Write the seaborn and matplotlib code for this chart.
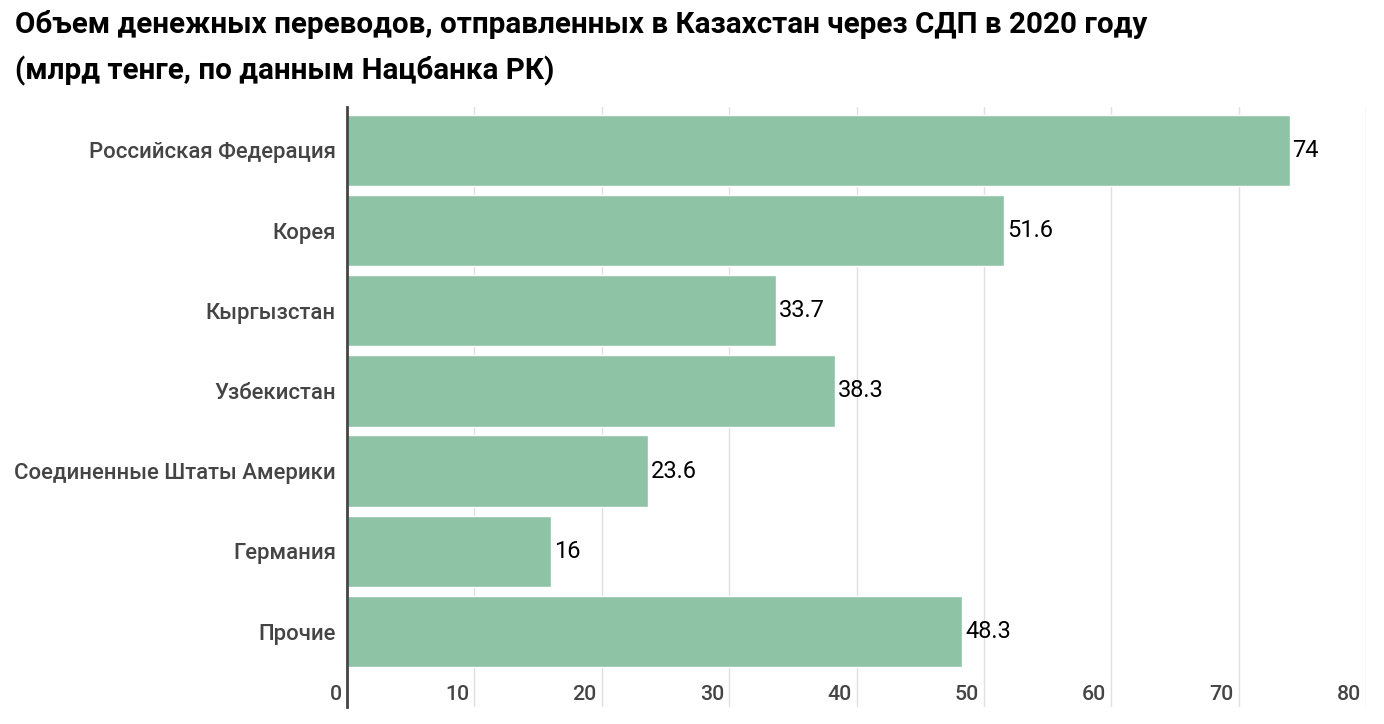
import matplotlib
matplotlib.use("Agg")
import matplotlib.pyplot as plt
import matplotlib.transforms as mtransforms
import seaborn as sns
import pandas as pd

categories = ["Российская Федерация", "Корея", "Кыргызстан", "Узбекистан",
              "Соединенные Штаты Америки", "Германия", "Прочие"]
values = [74, 51.6, 33.7, 38.3, 23.6, 16, 48.3]
value_labels = ["74", "51.6", "33.7", "38.3", "23.6", "16", "48.3"]
x_ticks = [0, 10, 20, 30, 40, 50, 60, 70, 80]
title = "Объем денежных переводов, отправленных в Казахстан через СДП в 2020 году\n(млрд тенге, по данным Нацбанка РК)"

sns.set_theme(style="white")
plt.rcParams["font.family"] = ["Roboto", "DejaVu Sans"]

df = pd.DataFrame({"country": categories, "value": values})

fig = plt.figure(figsize=(13.84, 7.24), dpi=100)
ax = fig.add_axes([347/1384, 1-707/724, (1366-347)/1384, 600/724])

sns.barplot(data=df, x="value", y="country", orient="h", color="#8FC3A6",
            saturation=1, width=0.89, ax=ax, zorder=2)

ax.set_xlim(0, 80)
ax.set_ylim(6.94, -0.54)
ax.set_xticks(x_ticks)
ax.set_xticklabels([str(t) for t in x_ticks])
ax.set_xlabel("")
ax.set_ylabel("")

ax.grid(axis="x", color="#e0e0e0", linewidth=1, zorder=0)
ax.set_axisbelow(True)
for s in ["top", "right", "bottom"]:
    ax.spines[s].set_visible(False)
ax.spines["left"].set_color("#444444")
ax.spines["left"].set_linewidth(2)
ax.spines["left"].set_zorder(3)

ax.tick_params(axis="x", length=0, pad=-16, labelsize=15.3, labelcolor="#444444")
ax.tick_params(axis="y", length=0, pad=8, labelsize=15.9, labelcolor="#444444")
offset = mtransforms.ScaledTranslation(-5/100, 0, fig.dpi_scale_trans)
for lbl in ax.get_xticklabels():
    lbl.set_ha("right")
    lbl.set_fontweight("medium")
    lbl.set_transform(lbl.get_transform() + offset)
for lbl in ax.get_yticklabels():
    lbl.set_fontweight("medium")

ax.bar_label(ax.containers[0], labels=value_labels, padding=2, fontsize=17,
             color="black")

fig.text(15/1384, 1-10/724, title, ha="left", va="top", fontsize=21.3,
         fontweight="bold", color="black", linespacing=1.72)

fig.savefig("out.png", dpi=100)
